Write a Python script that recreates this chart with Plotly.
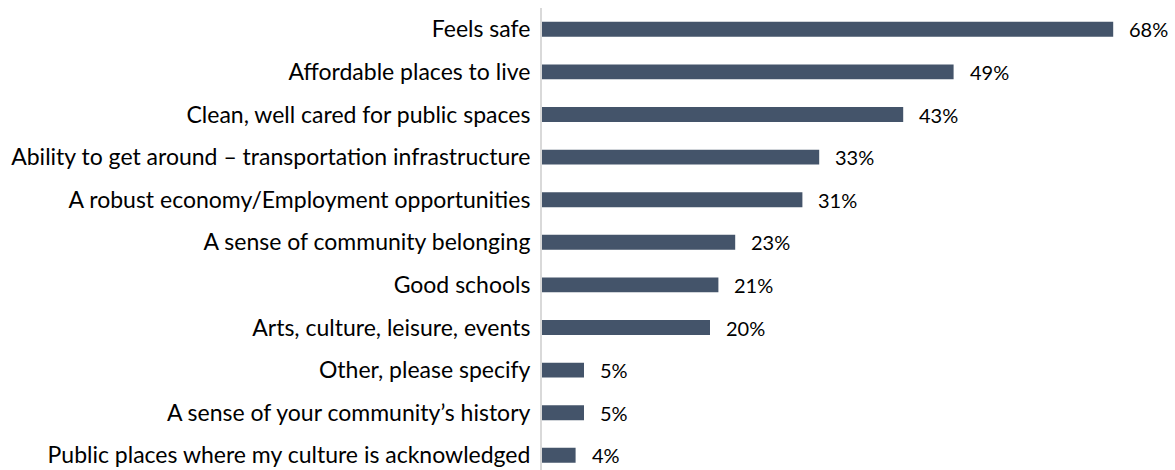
import plotly.graph_objects as go

categories = [
    "Feels safe",
    "Affordable places to live",
    "Clean, well cared for public spaces",
    "Ability to get around – transportation infrastructure",
    "A robust economy/Employment opportunities",
    "A sense of community belonging",
    "Good schools",
    "Arts, culture, leisure, events",
    "Other, please specify",
    "A sense of your community’s history",
    "Public places where my culture is acknowledged",
]
values = [68, 49, 43, 33, 31, 23, 21, 20, 5, 5, 4]
labels = [f"{v}%" for v in values]

FONT = "Lato"
fig = go.Figure()
fig.add_trace(go.Bar(
    x=values, y=categories, orientation="h",
    marker=dict(color="#44546A", line=dict(width=0)),
    width=0.35,
    hoverinfo="skip",
))
for c, v, t in zip(categories, values, labels):
    fig.add_annotation(x=v, y=c, text=t, xanchor="left", yanchor="middle",
                       xshift=14, showarrow=False,
                       font=dict(family=FONT, size=20, color="#000000"))

fig.update_layout(
    width=1175, height=470,
    margin=dict(l=542, r=3, t=8, b=0, autoexpand=False),
    paper_bgcolor="white", plot_bgcolor="white",
    showlegend=False,
    xaxis=dict(range=[0, 75], visible=False, fixedrange=True),
    yaxis=dict(
        categoryorder="array", categoryarray=categories,
        range=[10.345, -0.5], automargin=False, fixedrange=True,
        showline=True, linecolor="#D9D9D9", linewidth=2,
        ticks="outside", ticklen=5, tickcolor="rgba(0,0,0,0)",
        showgrid=False, zeroline=False,
        tickfont=dict(family=FONT, size=23, color="#000000"),
    ),
)
fig.write_html(
    "out.html",
    config={"displayModeBar": False, "staticPlot": True},
    post_script="document.body.style.margin='0';document.body.style.overflow='hidden';",
)
